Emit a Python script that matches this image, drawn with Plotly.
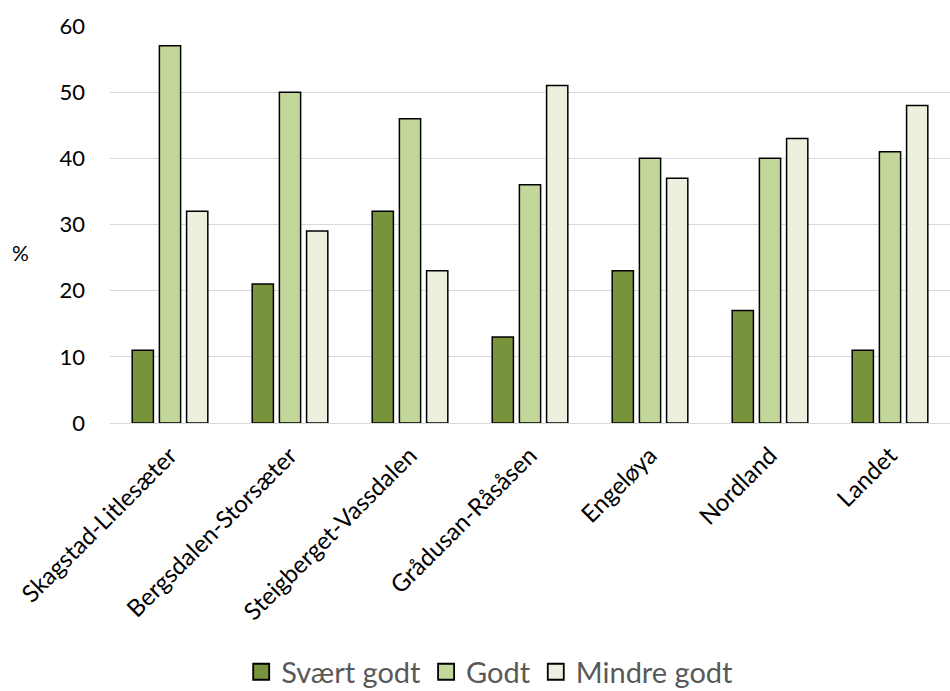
import plotly.graph_objects as go

categories = ["Skagstad-Litlesæter", "Bergsdalen-Storsæter", "Steigberget-Vassdalen",
              "Grådusan-Råsåsen", "Engeløya", "Nordland", "Landet"]
svaert_godt = [11, 21, 32, 13, 23, 17, 11]
godt = [57, 50, 46, 36, 40, 40, 41]
mindre_godt = [32, 29, 23, 51, 37, 43, 48]

series = [
    ("Svært godt", svaert_godt, "#77933C"),
    ("Godt", godt, "#C4D79B"),
    ("Mindre godt", mindre_godt, "#EBF1DE"),
]

font_family = "Lato, Open Sans, sans-serif"

fig = go.Figure()
for name, vals, color in series:
    fig.add_trace(go.Bar(
        x=categories, y=vals, name=name, showlegend=False,
        marker=dict(color=color, line=dict(color="#000000", width=1.5)),
    ))

# legend entries with larger square swatches
for name, vals, color in series:
    fig.add_trace(go.Scatter(
        x=[None], y=[None], mode="markers", name=name,
        marker=dict(symbol="square", size=16, color=color,
                    line=dict(color="#000000", width=1.8)),
    ))

fig.update_layout(
    width=950, height=691,
    margin=dict(l=110, r=0, t=26, b=268, autoexpand=False),
    paper_bgcolor="white", plot_bgcolor="white",
    barmode="group", bargap=0.32, bargroupgap=0.22,
    font=dict(family=font_family, size=20, color="#000000"),
    showlegend=True,
    legend=dict(orientation="h", x=0.452, xanchor="center", y=-0.627, yanchor="middle",
                font=dict(size=29, color="#595959"), itemwidth=30,
                itemsizing="trace", traceorder="normal"),
    xaxis=dict(tickangle=-45, showgrid=False, showline=True, linecolor="#d9d9d9",
               linewidth=1, ticks="", automargin=False, ticklabelstandoff=8,
               tickfont=dict(size=24, color="#000000")),
    yaxis=dict(range=[0, 60], dtick=10, showgrid=True, gridcolor="#d9d9d9", gridwidth=1,
               zeroline=False, ticks="", ticklabelstandoff=24, automargin=False,
               tickfont=dict(size=22, color="#000000")),
    annotations=[dict(text="%", xref="paper", yref="paper", x=-0.107, y=0.43,
                      xanchor="center", yanchor="middle", showarrow=False,
                      font=dict(size=21, color="#000000"))],
)

fig.write_html("out.html")
